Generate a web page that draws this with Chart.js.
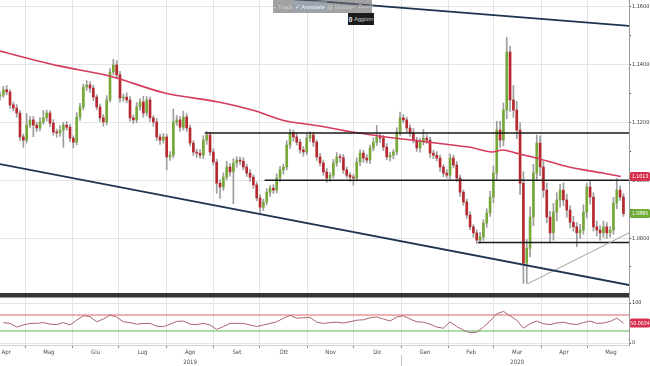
<!DOCTYPE html>
<html>
<head>
<meta charset="utf-8">
<script src="https://cdn.jsdelivr.net/npm/chart.js@4.4.1/dist/chart.umd.min.js"></script>
<style>
  html, body { margin: 0; padding: 0; background: #fff; }
  #wrap { position: relative; width: 650px; height: 366px; overflow: hidden; }
  #toolbar {
    position: absolute; left: 273px; top: 0; width: 99px; height: 13px;
    background: rgba(100, 100, 100, 0.6); display: flex; align-items: center;
    justify-content: space-around; font: 6px 'Liberation Sans', Arial, sans-serif;
    color: #d0d0d0; white-space: nowrap;
  }
  #toolbar .on { background: rgba(150, 165, 185, 0.55); color: #f4f4f4; padding: 2px 2px; }
  #tip {
    position: absolute; left: 348px; top: 13px; width: 26px; height: 12px;
    background: #1c1c1c; color: #cfcfcf; font: 5.5px 'Liberation Sans', Arial, sans-serif;
    display: flex; align-items: center; justify-content: center; white-space: nowrap;
  }
  #tip b { color: #fff; margin-right: 2px; font-size: 6.5px; }
</style>
</head>
<body>
<div id="wrap">
  <canvas id="chart" width="650" height="366"></canvas>
  <div id="toolbar"><span>+ Track</span><span class="on">✓ Annotate</span><span>▥ Notizie</span><span>⌕ Zoom</span></div>
  <div id="tip"><b>0</b>Aggiorn</div>
</div>
<script>
// EUR/USD candles, one bar ~ every 2 sessions
const firstOpen = 1.1290;
const closes = [
  1.1295, 1.1313, 1.1306, 1.1261, 1.1250, 1.1233, 1.1150, 1.1139, 1.1191, 1.1209,
  1.1191, 1.1181, 1.1202, 1.1216, 1.1233, 1.1198, 1.1167, 1.1164, 1.1174, 1.1191,
  1.1184, 1.1146, 1.1132, 1.1219, 1.1254, 1.1323, 1.1330, 1.1319, 1.1288, 1.1254,
  1.1216, 1.1202, 1.1278, 1.1375, 1.1399, 1.1365, 1.1285, 1.1288, 1.1278, 1.1216,
  1.1209, 1.1254, 1.1271, 1.1233, 1.1278, 1.1216, 1.1202, 1.1150, 1.1139, 1.1150,
  1.1081, 1.1087, 1.1202, 1.1209, 1.1184, 1.1219, 1.1181, 1.1129, 1.1098, 1.1094,
  1.1087, 1.1139, 1.1157, 1.1098, 1.1063, 1.0990, 1.0977, 1.1011, 1.1046, 1.1029,
  1.1060, 1.1070, 1.1066, 1.1046, 1.1025, 1.1011, 1.0984, 1.0939, 1.0907, 1.0925,
  1.0959, 1.0973, 1.0966, 1.1008, 1.1036, 1.1046, 1.1122, 1.1164, 1.1150, 1.1132,
  1.1105, 1.1098, 1.1146, 1.1157, 1.1132, 1.1081, 1.1060, 1.1029, 1.1008, 1.1018,
  1.1060, 1.1081, 1.1078, 1.1036, 1.1018, 1.1011, 1.1008, 1.1063, 1.1094, 1.1077,
  1.1070, 1.1112, 1.1132, 1.1150, 1.1146, 1.1115, 1.1081, 1.1087, 1.1098, 1.1167,
  1.1216, 1.1209, 1.1181, 1.1164, 1.1139, 1.1112, 1.1132, 1.1146, 1.1139, 1.1094,
  1.1087, 1.1077, 1.1046, 1.1025, 1.1018, 1.1077, 1.1053, 1.1008, 1.0959, 1.0925,
  1.0880, 1.0839, 1.0818, 1.0793, 1.0804, 1.0852, 1.0887, 1.0942, 1.1025, 1.1174,
  1.1139, 1.1243, 1.1444, 1.1278, 1.1243, 1.1174, 1.0990, 1.0713, 1.0765, 1.0873,
  1.1025, 1.1129, 1.1046, 1.0966, 1.0873, 1.0818, 1.0890, 1.0932, 1.0966, 1.0932,
  1.0897, 1.0855, 1.0839, 1.0818, 1.0828, 1.0890, 1.0977, 1.0942, 1.0839, 1.0828,
  1.0818, 1.0839, 1.0818, 1.0828, 1.0921, 1.0966, 1.0942, 1.0885
];
// wick lengths in pips above / below the body
const wickHi = [
  10, 12, 15, 8, 10, 12, 8, 10, 40, 12,
  12, 10, 15, 25, 10, 8, 12, 10, 15, 10,
  12, 10, 8, 15, 12, 10, 15, 12, 10, 8,
  10, 12, 15, 12, 20, 15, 12, 10, 15, 12,
  10, 15, 12, 20, 12, 10, 8, 12, 10, 12,
  10, 12, 45, 15, 12, 20, 12, 10, 8, 10,
  12, 15, 12, 10, 12, 10, 12, 15, 20, 12,
  15, 12, 10, 12, 10, 12, 8, 10, 12, 10,
  12, 10, 12, 15, 12, 10, 15, 12, 10, 12,
  10, 12, 15, 12, 10, 8, 12, 10, 12, 10,
  12, 15, 10, 12, 10, 8, 10, 15, 12, 10,
  12, 10, 15, 40, 12, 10, 12, 10, 8, 15,
  20, 12, 10, 12, 15, 10, 12, 30, 12, 10,
  10, 12, 10, 8, 12, 15, 10, 12, 10, 8,
  10, 12, 8, 10, 15, 12, 15, 20, 25, 30,
  30, 25, 50, 20, 50, 30, 25, 40, 30, 35,
  30, 28, 25, 20, 25, 20, 30, 25, 20, 25,
  20, 15, 20, 15, 20, 25, 12, 20, 15, 20,
  15, 20, 15, 12, 20, 40, 15, 12
];
const wickLo = [
  12, 8, 10, 12, 10, 15, 12, 25, 10, 10,
  40, 12, 10, 8, 10, 12, 10, 15, 12, 60,
  10, 12, 20, 10, 12, 10, 12, 15, 12, 10,
  12, 15, 10, 8, 10, 12, 15, 12, 10, 12,
  12, 10, 12, 15, 10, 12, 15, 12, 15, 10,
  45, 12, 10, 12, 15, 10, 12, 10, 12, 15,
  10, 12, 15, 12, 10, 35, 40, 12, 10, 15,
  110, 15, 12, 10, 12, 15, 12, 10, 20, 12,
  10, 15, 12, 10, 12, 15, 10, 12, 15, 10,
  12, 15, 10, 12, 15, 12, 10, 12, 15, 12,
  10, 12, 15, 12, 10, 15, 25, 10, 12, 15,
  10, 12, 10, 12, 15, 12, 10, 15, 12, 10,
  12, 10, 15, 12, 10, 12, 15, 10, 12, 15,
  12, 10, 15, 12, 10, 12, 10, 12, 15, 12,
  12, 10, 15, 12, 10, 12, 15, 12, 20, 25,
  25, 20, 30, 40, 25, 30, 40, 70, 69, 30,
  30, 25, 30, 25, 20, 35, 25, 30, 25, 20,
  25, 20, 15, 48, 20, 15, 20, 25, 15, 20,
  25, 15, 20, 15, 15, 20, 12, 10
];
// RSI, one value every second bar (bars 1, 3, 5, ...)
const rsiValues = [
  51, 49, 40, 45, 49, 49, 51, 47, 46, 51,
  45, 57, 68, 66, 53, 60, 70, 65, 53, 51,
  47, 49, 49, 42, 41, 47, 54, 55, 47, 46,
  49, 45, 34, 41, 49, 49, 49, 45, 41, 45,
  49, 53, 62, 69, 62, 63, 64, 52, 49, 51,
  52, 50, 53, 57, 58, 63, 65, 60, 55, 65,
  68, 60, 53, 52, 47, 40, 37, 53, 41, 32,
  26, 27, 40, 55, 73, 79, 68, 57, 37, 48,
  55, 48, 46, 50, 52, 48, 46, 51, 55, 49,
  50, 54, 62, 50.0634
];
const rsiLevels = [70, 30];

// 200 day moving average
const maDates = ['2019-04-14', '2019-05-23', '2019-06-25', '2019-07-31', '2019-09-04', '2019-09-26',
  '2019-10-18', '2019-11-09', '2019-11-30', '2019-12-22', '2020-01-13', '2020-02-03', '2020-02-14',
  '2020-02-29', '2020-03-07', '2020-03-16', '2020-03-29', '2020-04-19', '2020-05-11', '2020-05-23'];
const maValues = [1.1448, 1.1396, 1.1361, 1.1302, 1.1271, 1.1243, 1.1205, 1.1188, 1.1167, 1.1150,
  1.1136, 1.1122, 1.1115, 1.1098, 1.1105, 1.1094, 1.1077, 1.1046, 1.1025, 1.1013];

// drawn studies: [date, price] pairs
const channelTop = [['2019-10-20', 1.1628], ['2020-05-29', 1.1534]];
const channelBottom = [['2019-04-14', 1.1057], ['2020-05-29', 1.0637]];
const supportRise = [['2020-03-23', 1.0641], ['2020-05-29', 1.0820]];
const hLevels = [['2019-08-26', 1.1164], ['2019-10-04', 1.1000], ['2020-02-20', 1.0785]];
const lineEnd = '2020-05-29';

const monthStarts = ['2019-04-01', '2019-05-01', '2019-06-01', '2019-07-01', '2019-08-01', '2019-09-01',
  '2019-10-01', '2019-11-01', '2019-12-01', '2020-01-01', '2020-02-01', '2020-03-01', '2020-04-01',
  '2020-05-01', '2020-06-01'];
const monthNames = ['Apr', 'Mag', 'Giu', 'Lug', 'Ago', 'Set', 'Ott', 'Nov', 'Dic', 'Gen', 'Feb', 'Mar', 'Apr', 'Mag'];
const yearUnder = ['', '', '', '', '2019', '', '', '', '', '', '', '2020', '', ''];
const priceTicks = [1.07, 1.08, 1.09, 1.10, 1.11, 1.12, 1.13, 1.14, 1.15, 1.16];

// days counted from 1 Apr 2019
const origin = Date.UTC(2019, 3, 1);
function dayOf(s) {
  const [y, m, d] = s.split('-').map(Number);
  return (Date.UTC(y, m - 1, d) - origin) / 864e5;
}
const firstBarDay = 13.7;
const barStep = 2.171;
const barDay = i => firstBarDay + i * barStep;
const xMin = 13.7, xMax = 423.3;

const opens = closes.map((c, i) => i === 0 ? firstOpen : closes[i - 1]);
const highs = closes.map((c, i) => Math.max(opens[i], c) + wickHi[i] / 10000);
const lows = closes.map((c, i) => Math.min(opens[i], c) - wickLo[i] / 10000);
const bodyColors = closes.map((c, i) => c >= opens[i] ? '#76a83a' : '#b8282e');

const labelTicks = monthNames.map((n, m) => {
  const mid = (dayOf(monthStarts[m]) + dayOf(monthStarts[m + 1])) / 2;
  return { value: Math.min(Math.max(mid, xMin + 4), xMax - 4) };
});

const fam = "'Liberation Sans Narrow', 'DejaVu Sans Condensed', 'Liberation Sans', sans-serif";
const smallFont = { family: fam, size: 5.5 };
const monthFont = { family: fam, size: 6, lineHeight: '10px' };

// drop the label overhang padding so the plot fills the canvas edge to edge
const noPad = s => { s.paddingTop = 0; s.paddingBottom = 0; s.paddingLeft = 0; s.paddingRight = 0; };

function segment(pts, color, width) {
  return {
    type: 'line', xAxisID: 'x', yAxisID: 'y', order: 0,
    data: pts.map(p => ({ x: dayOf(p[0]), y: p[1] })),
    borderColor: color, borderWidth: width, pointRadius: 0
  };
}

const datasets = [
  {
    type: 'bar', xAxisID: 'x', yAxisID: 'y', order: 3, grouped: false,
    data: closes.map((c, i) => ({ x: barDay(i), y: [lows[i], highs[i]] })),
    backgroundColor: '#9d9d9d', barThickness: 1
  },
  {
    type: 'bar', xAxisID: 'x', yAxisID: 'y', order: 2, grouped: false,
    data: closes.map((c, i) => ({ x: barDay(i), y: [opens[i], c] })),
    backgroundColor: bodyColors, barThickness: 2, minBarLength: 1
  },
  {
    type: 'line', xAxisID: 'x', yAxisID: 'y', order: 1,
    data: maDates.map((d, i) => ({ x: dayOf(d), y: maValues[i] })),
    borderColor: '#d63a5c', borderWidth: 1.6, pointRadius: 0, tension: 0.3
  },
  segment(channelTop, '#1e3550', 1.8),
  segment(channelBottom, '#1e3550', 1.8),
  segment(supportRise, '#a0a0a0', 1),
  ...hLevels.map(h => segment([h, [lineEnd, h[1]]], '#1a1a1a', 1.5)),
  ...rsiLevels.map((v, k) => ({
    type: 'line', xAxisID: 'x', yAxisID: 'rsi', order: 1,
    data: [{ x: xMin, y: v }, { x: xMax, y: v }],
    borderColor: k === 0 ? '#e06262' : '#5cb85c', borderWidth: 1, pointRadius: 0
  })),
  {
    type: 'line', xAxisID: 'x', yAxisID: 'rsi', order: 0,
    data: rsiValues.map((v, k) => ({ x: barDay(2 * k + 1), y: v })),
    borderColor: '#a8646e', borderWidth: 1, pointRadius: 0
  }
];

const decor = {
  id: 'decor',
  beforeDatasetsDraw(chart) {
    const { ctx, chartArea } = chart;
    const r = chart.scales.rsi;
    ctx.save();
    ctx.fillStyle = '#353535';
    ctx.fillRect(chartArea.left, r.top, chartArea.width, 4.5);
    ctx.restore();
  },
  afterDraw(chart) {
    const { ctx } = chart;
    const y = chart.scales.y, r = chart.scales.rsi, x = chart.scales.x;
    ctx.save();
    // year separator under the axis
    const xs = Math.round(x.getPixelForValue(dayOf('2020-01-01'))) + 0.5;
    ctx.strokeStyle = '#c4c4c4';
    ctx.lineWidth = 1;
    ctx.beginPath();
    ctx.moveTo(xs, 355);
    ctx.lineTo(xs, 366);
    ctx.stroke();
    // value tags on the right axis
    const tag = (py, text, bg) => {
      ctx.fillStyle = bg;
      ctx.beginPath();
      ctx.roundRect(630, py - 4.5, 20, 9, 1.5);
      ctx.fill();
      ctx.fillStyle = '#ffffff';
      ctx.font = '5.3px ' + fam;
      ctx.textAlign = 'center';
      ctx.textBaseline = 'middle';
      ctx.fillText(text, 640, py + 0.5);
    };
    tag(y.getPixelForValue(maValues[maValues.length - 1]), maValues[maValues.length - 1].toFixed(4), '#d8304f');
    tag(y.getPixelForValue(closes[closes.length - 1]), closes[closes.length - 1].toFixed(4), '#6faa34');
    tag(r.getPixelForValue(rsiValues[rsiValues.length - 1]), rsiValues[rsiValues.length - 1].toFixed(4), '#d8304f');
    ctx.restore();
  }
};

new Chart(document.getElementById('chart'), {
  data: { datasets },
  plugins: [decor],
  options: {
    responsive: false,
    animation: false,
    devicePixelRatio: 1,
    layout: { padding: 0 },
    plugins: { legend: { display: false }, tooltip: { enabled: false } },
    scales: {
      x: {
        type: 'linear', position: 'bottom', min: xMin, max: xMax, bounds: 'data', offset: false,
        afterBuildTicks: s => { s.ticks = monthStarts.map(d => ({ value: dayOf(d) })).filter(t => t.value >= xMin && t.value <= xMax); },
        ticks: { callback: () => '', font: smallFont },
        grid: { color: '#e3e3e3', tickColor: '#888', tickLength: 3, offset: false },
        border: { color: '#d0d0d0' },
        afterFit: s => { s.height = 1; noPad(s); }
      },
      xl: {
        type: 'linear', position: 'bottom', min: xMin, max: xMax, bounds: 'data', offset: false,
        afterBuildTicks: s => { s.ticks = labelTicks.map(t => ({ value: t.value })); },
        ticks: {
          autoSkip: false, maxRotation: 0, padding: 1, color: '#4a4a4a', font: monthFont,
          callback: (v, i) => yearUnder[i] ? [monthNames[i], yearUnder[i]] : monthNames[i]
        },
        grid: { display: false, drawTicks: false, tickLength: 0, offset: false },
        border: { display: false },
        afterFit: s => { s.height = 20; noPad(s); }
      },
      y: {
        type: 'linear', position: 'right', stack: 'panes', stackWeight: 293,
        min: 1.0610, max: 1.1624, bounds: 'data',
        afterBuildTicks: s => { s.ticks = priceTicks.map(v => ({ value: v })); },
        ticks: {
          padding: 1, color: '#333', font: smallFont,
          callback: v => Math.round(v * 100) % 2 === 0 ? v.toFixed(4) : ''
        },
        grid: {
          color: c => c.tick && Math.round(c.tick.value * 100) % 2 === 0 ? '#e3e3e3' : 'rgba(0,0,0,0)',
          tickColor: '#444', tickLength: 2
        },
        border: { color: '#9a9a9a' },
        afterFit: s => { s.width = 21; noPad(s); }
      },
      rsi: {
        type: 'linear', position: 'right', stack: 'panes', stackWeight: 52,
        min: -5, max: 125, bounds: 'data',
        afterBuildTicks: s => { s.ticks = [{ value: 0 }, { value: 100 }]; },
        ticks: { padding: 1, color: '#333', font: smallFont },
        grid: { color: '#e3e3e3', tickColor: '#444', tickLength: 2 },
        border: { color: '#9a9a9a' },
        afterFit: s => { s.width = 21; noPad(s); }
      }
    }
  }
});
</script>
</body>
</html>
